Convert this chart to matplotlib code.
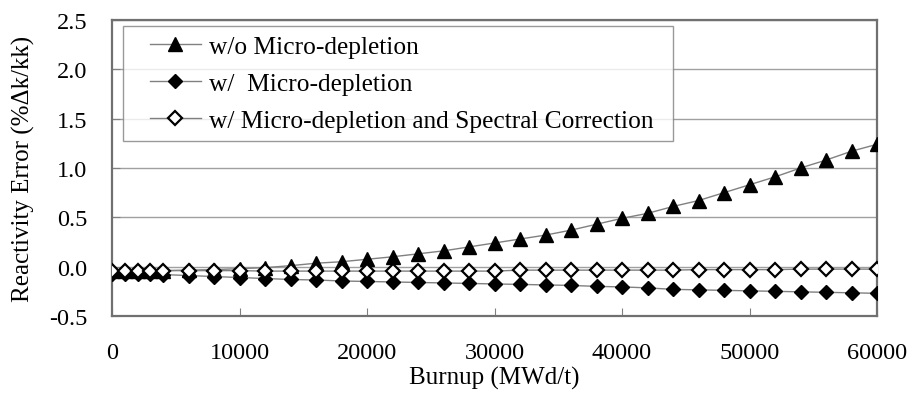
import matplotlib
matplotlib.use("Agg")
import matplotlib.pyplot as plt
from matplotlib.legend_handler import HandlerLine2D
import numpy as np

burnup = [0, 1000, 2000, 3000, 4000, 6000, 8000, 10000, 12000, 14000, 16000, 18000,
          20000, 22000, 24000, 26000, 28000, 30000, 32000, 34000, 36000, 38000, 40000,
          42000, 44000, 46000, 48000, 50000, 52000, 54000, 56000, 58000, 60000]

wo_micro = [-0.04, -0.04, -0.04, -0.04, -0.04, -0.035, -0.03, -0.02, -0.01, 0.01, 0.035, 0.05,
            0.075, 0.10, 0.13, 0.16, 0.20, 0.24, 0.28, 0.32, 0.37, 0.43, 0.49,
            0.54, 0.61, 0.67, 0.75, 0.83, 0.91, 1.00, 1.08, 1.17, 1.24]

w_micro = [-0.07, -0.07, -0.075, -0.075, -0.08, -0.09, -0.10, -0.11, -0.12, -0.13, -0.135, -0.145,
           -0.15, -0.155, -0.16, -0.165, -0.17, -0.175, -0.18, -0.185, -0.19, -0.20, -0.205,
           -0.215, -0.23, -0.235, -0.24, -0.245, -0.25, -0.255, -0.26, -0.265, -0.27]

w_micro_spec = [-0.04, -0.04, -0.04, -0.04, -0.04, -0.04, -0.04, -0.04, -0.045, -0.045, -0.045, -0.045,
                -0.045, -0.045, -0.045, -0.045, -0.045, -0.045, -0.035, -0.035, -0.035, -0.035, -0.035,
                -0.035, -0.035, -0.03, -0.03, -0.03, -0.03, -0.025, -0.025, -0.025, -0.025]

labels = ["w/o Micro-depletion", "w/  Micro-depletion",
          "w/ Micro-depletion and Spectral Correction"]
yticks = [-0.5, 0.0, 0.5, 1.0, 1.5, 2.0, 2.5]
xticks = [0, 10000, 20000, 30000, 40000, 50000, 60000]

plt.rcParams['font.family'] = ['Liberation Serif', 'DejaVu Serif']


class ShiftHandler(HandlerLine2D):
    def __init__(self, shift, **kw):
        super().__init__(**kw)
        self.shift = shift

    def create_artists(self, legend, orig_handle, xdescent, ydescent, width,
                       height, fontsize, trans):
        return super().create_artists(legend, orig_handle, xdescent - self.shift,
                                      ydescent, width - self.shift, height,
                                      fontsize, trans)


fig = plt.figure(figsize=(9.09, 4.02), dpi=100)
ax = fig.add_axes([112/909, 1 - 317/402, (877-112)/909, (317-21)/402])

line_col = '#808080'
l1, = ax.plot(burnup, wo_micro, color=line_col, lw=1.0, marker='^', ms=10,
              mfc='black', mec='black', label=labels[0], zorder=3)
l2, = ax.plot(burnup, w_micro, color=line_col, lw=1.0, marker='D', ms=7.5,
              mfc='black', mec='black', label=labels[1], zorder=3)
l3, = ax.plot(burnup, w_micro_spec, color=line_col, lw=1.0, marker='D', ms=7.5,
              mfc='white', mec='black', mew=1.6, label=labels[2], zorder=4)

ax.set_xlim(0, 60000)
ax.set_ylim(-0.5, 2.5)
ax.set_xticks(xticks)
ax.set_yticks(yticks)
ax.set_yticklabels([f"{v:.1f}" for v in yticks])
ax.set_xticklabels([str(v) for v in xticks])
ax.grid(axis='y', color='#a0a0a0', lw=1.0)
ax.set_axisbelow(True)
ax.tick_params(axis='x', direction='in', length=6, pad=19, labelsize=17.5, color='#808080')
ax.tick_params(axis='y', direction='in', length=6, pad=18, labelsize=17.5, color='#808080')
for s in ax.spines.values():
    s.set_color('#707070')
    s.set_linewidth(1.6)

ax.set_xlabel("Burnup (MWd/t)", fontsize=18, labelpad=2)
ax.set_ylabel("Reactivity Error (%\u0394k/kk)", fontsize=18, labelpad=10)

fs = 18.3
shift = 12.7
hmap = {l: ShiftHandler(shift) for l in (l1, l2, l3)}
leg = ax.legend(handles=[l1, l2, l3], loc='upper left',
                bbox_to_anchor=(11/765, 0.4, (673-123)/765, (1 - 6/296) - 0.4),
                mode='expand', fontsize=fs, frameon=True, fancybox=False,
                edgecolor='#808080', handlelength=49.4/fs, handler_map=hmap,
                borderpad=0.36, labelspacing=0.56, handletextpad=6/fs, borderaxespad=0)
leg.get_frame().set_linewidth(1.0)

fig.savefig("out.png", dpi=100)
